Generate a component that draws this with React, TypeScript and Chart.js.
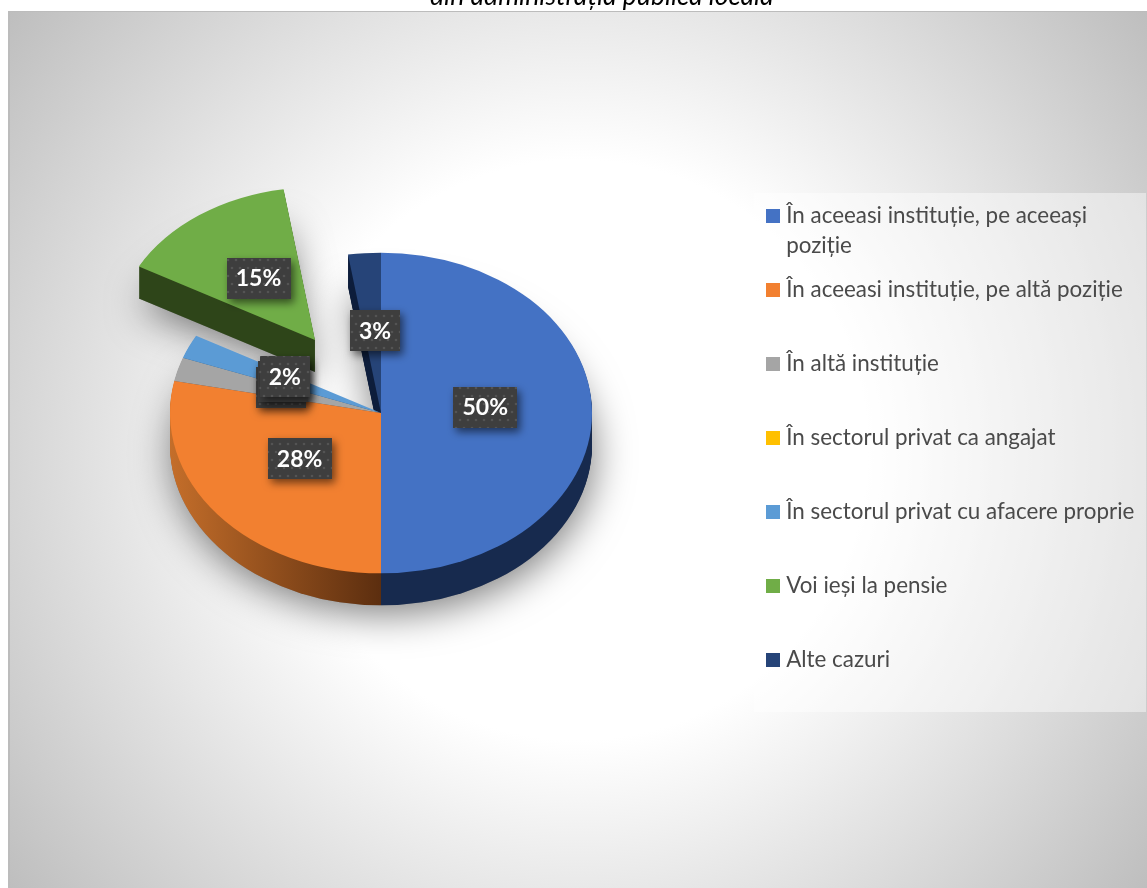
import React, { useEffect, useRef } from "react";
import { Chart, registerables } from "chart.js";

Chart.register(...registerables);

const titleText = "din administrația publică locală";
const categories = [
  "În aceeasi instituție, pe aceeași poziție",
  "În aceeasi instituție, pe altă poziție",
  "În altă instituție",
  "În sectorul privat ca angajat",
  "În sectorul privat cu afacere proprie",
  "Voi ieși la pensie",
  "Alte cazuri",
];
const legendLines = [
  ["În aceeasi instituție, pe aceeași", "poziție"],
  ["În aceeasi instituție, pe altă poziție", ""],
  ["În altă instituție", ""],
  ["În sectorul privat ca angajat", ""],
  ["În sectorul privat cu afacere proprie", ""],
  ["Voi ieși la pensie", ""],
  ["Alte cazuri", ""],
];
const shares = [50, 28.2, 2.4, 0, 2.4, 14.5, 2.5];
const topColors = ["#4472c4", "#f28030", "#a5a5a5", "#ffc000", "#5b9bd5", "#70ad47", "#264478"];
const wallLeft = ["#172a4e", "#c46e2a", "#6b6b6b", "#8f6c00", "#33597c", "#2e4519", "#0d1d3b"];
const wallRight = ["#172a4e", "#5c2e0f", "#6b6b6b", "#8f6c00", "#33597c", "#2e4519", "#0d1d3b"];

// styling of the exploded 3D look
const explodeX = [0, 0, 0, 0, 0, -66, 0];
const explodeY = [0, 0, 0, 0, 0, -96, 0];
const sliceRadius = [211, 211, 211, 211, 211, 201, 211];
const labelNudgeX = [3, -3, -3, -3, -4, -1, 2];
const labelNudgeY = [-6, -3, -4, -5, -5, -2, -6];
const squash = 0.76;
const depth = 32;
const labelFraction = 0.48;

function swatch(color: string) {
  const c = document.createElement("canvas");
  c.width = 14;
  c.height = 14;
  const x = c.getContext("2d")!;
  x.fillStyle = color;
  x.fillRect(0, 0, 14, 14);
  return c;
}

function dotPattern(ctx: CanvasRenderingContext2D) {
  const c = document.createElement("canvas");
  c.width = 16;
  c.height = 16;
  const x = c.getContext("2d")!;
  x.fillStyle = "#3e3e3e";
  x.fillRect(0, 0, 16, 16);
  x.fillStyle = "#545454";
  [
    [4, 4],
    [12, 4],
    [0, 12],
    [8, 12],
    [16, 12],
  ].forEach(([a, b]) => {
    x.beginPath();
    x.arc(a, b, 1.3, 0, Math.PI * 2);
    x.fill();
  });
  return ctx.createPattern(c, "repeat")!;
}

function view(ctx: CanvasRenderingContext2D, el: any, i: number, drop: number) {
  ctx.translate(el.x, el.y + drop);
  ctx.scale(1, squash);
  ctx.translate(explodeX[i], explodeY[i]);
  ctx.translate(-el.x, -el.y);
}

function sector(ctx: CanvasRenderingContext2D, el: any) {
  ctx.moveTo(el.x, el.y);
  ctx.arc(el.x, el.y, el.outerRadius, el.startAngle, el.endAngle);
  ctx.closePath();
}

const backdrop = {
  id: "backdrop",
  beforeDraw(chart: any) {
    const { ctx, width, height } = chart;
    ctx.save();
    const g = ctx.createRadialGradient(578, 450, 0, 578, 450, 725);
    g.addColorStop(0, "#ffffff");
    g.addColorStop(0.4, "#ffffff");
    g.addColorStop(1, "#bdbdbd");
    ctx.fillStyle = g;
    ctx.fillRect(8, 11, width - 8, height - 11);
    ctx.fillStyle = "#bcbcbc";
    ctx.fillRect(8, 11, width - 8, 1);
    ctx.fillRect(8, 11, 2, height - 11);
    ctx.fillStyle = "rgba(255,255,255,0.45)";
    ctx.fillRect(754, 193, width - 755, 519);
    ctx.restore();
  },
};

const placement = {
  id: "placement",
  afterLayout(chart: any) {
    const area = chart.chartArea;
    area.left = 0;
    area.right = 762;
    area.top = 0;
    area.bottom = 826;
    area.width = 762;
    area.height = 826;
    const lg = chart.legend;
    const pad = lg.options.labels.padding;
    lg.left = 771 - pad;
    lg.right = chart.width + 200;
    lg.top = 205 - pad;
    lg.bottom = chart.height + 200;
  },
  afterDatasetsUpdate(chart: any) {
    chart.getDatasetMeta(0).data.forEach((el: any, i: number) => {
      el.outerRadius = sliceRadius[i];
    });
  },
};

const pie3d = {
  id: "pie3d",
  beforeDatasetDraw(chart: any) {
    const { ctx } = chart;
    const arcs: any[] = chart.getDatasetMeta(0).data;
    const order = [6, 2, 3, 4, 0, 1];
    const lifted = 5;

    // soft drop shadows on the backdrop
    const shadowed = (ids: number[]) => {
      ctx.save();
      ctx.shadowColor = "rgba(0,0,0,0.5)";
      ctx.shadowBlur = 38;
      ctx.shadowOffsetX = 2;
      ctx.shadowOffsetY = 9;
      ctx.fillStyle = "#888888";
      const whole = new Path2D();
      ids.forEach((i) => {
        const el = arcs[i];
        const m = new DOMMatrix();
        m.translateSelf(el.x, el.y + depth);
        m.scaleSelf(1, squash);
        m.translateSelf(explodeX[i], explodeY[i]);
        m.translateSelf(-el.x, -el.y);
        const p = new Path2D();
        p.moveTo(el.x, el.y);
        p.arc(el.x, el.y, el.outerRadius, el.startAngle, el.endAngle);
        p.closePath();
        whole.addPath(p, m);
      });
      ctx.fill(whole);
      ctx.restore();
    };
    shadowed([lifted]);
    shadowed(order);

    const wall = (i: number) => {
      const el = arcs[i];
      const g = ctx.createLinearGradient(el.x - 211, 0, el.x, 0);
      g.addColorStop(0, wallLeft[i]);
      g.addColorStop(1, wallRight[i]);
      for (let d = depth; d >= 1; d--) {
        ctx.save();
        view(ctx, el, i, d);
        ctx.fillStyle = g;
        ctx.beginPath();
        sector(ctx, el);
        ctx.fill();
        ctx.restore();
      }
    };
    const top = (i: number) => {
      ctx.save();
      view(ctx, arcs[i], i, 0);
      arcs[i].draw(ctx);
      ctx.restore();
    };
    order.forEach(wall);
    order.forEach(top);
    wall(lifted);
    top(lifted);

    // value labels
    const fill = dotPattern(ctx);
    ctx.save();
    ctx.font = "bold 23px Lato";
    ctx.textAlign = "center";
    ctx.textBaseline = "middle";
    const drawOrder = [2, 3, 4, 0, 1, 5, 6];
    drawOrder.forEach((i) => {
      const el = arcs[i];
      const mid = (el.startAngle + el.endAngle) / 2;
      const r = labelFraction * el.outerRadius;
      const cx = el.x + explodeX[i] + Math.cos(mid) * r + labelNudgeX[i];
      const cy = el.y + (explodeY[i] + Math.sin(mid) * r) * squash + labelNudgeY[i];
      const text = Math.round(shares[i]) + "%";
      const w = Math.round(ctx.measureText(text).width) + 18;
      ctx.save();
      ctx.shadowColor = "rgba(0,0,0,0.55)";
      ctx.shadowBlur = 8;
      ctx.shadowOffsetX = 3;
      ctx.shadowOffsetY = 4;
      ctx.fillStyle = fill;
      ctx.fillRect(Math.round(cx - w / 2), Math.round(cy - 20.5), w, 41);
      ctx.restore();
      ctx.fillStyle = "#ffffff";
      ctx.fillText(text, cx, cy + 1);
    });
    ctx.restore();
    return false;
  },
};

export default function App() {
  const ref = useRef<HTMLCanvasElement>(null);
  useEffect(() => {
    const chart = new Chart(ref.current!, {
      type: "pie",
      data: {
        labels: categories,
        datasets: [
          {
            data: shares,
            backgroundColor: topColors,
            borderWidth: 0,
            radius: 211,
          } as any,
        ],
      },
      options: {
        responsive: false,
        animation: false,
        events: [],
        plugins: {
          tooltip: { enabled: false },
          legend: {
            position: "right",
            align: "start",
            labels: {
              padding: 14,
              color: "#4a4a4a",
              usePointStyle: true,
              pointStyleWidth: 4,
              font: { family: "Lato", size: 22.4, lineHeight: 30 / 22.4 },
              generateLabels: () =>
                legendLines.map((lines, i) => ({
                  text: lines,
                  fontColor: "#4a4a4a",
                  fillStyle: topColors[i],
                  strokeStyle: topColors[i],
                  lineWidth: 0,
                  pointStyle: swatch(topColors[i]),
                  hidden: false,
                  index: i,
                })),
            },
          } as any,
        },
      },
      plugins: [backdrop, placement, pie3d],
    } as any);
    return () => chart.destroy();
  }, []);
  return (
    <div>
      <canvas ref={ref} width={1147} height={888} style={{ position: "absolute", left: 0, top: 0, display: "block" }} />
      <div
        style={{
          position: "absolute",
          left: 0,
          top: 0,
          width: 1147,
          height: 11,
          overflow: "hidden",
        }}
      >
        <div
          style={{
            position: "absolute",
            left: 430,
            top: -19,
            whiteSpace: "nowrap",
            font: "italic 26.6px Lato",
            lineHeight: "28px",
            color: "#000",
          }}
        >
          {titleText}
        </div>
      </div>
    </div>
  );
}
